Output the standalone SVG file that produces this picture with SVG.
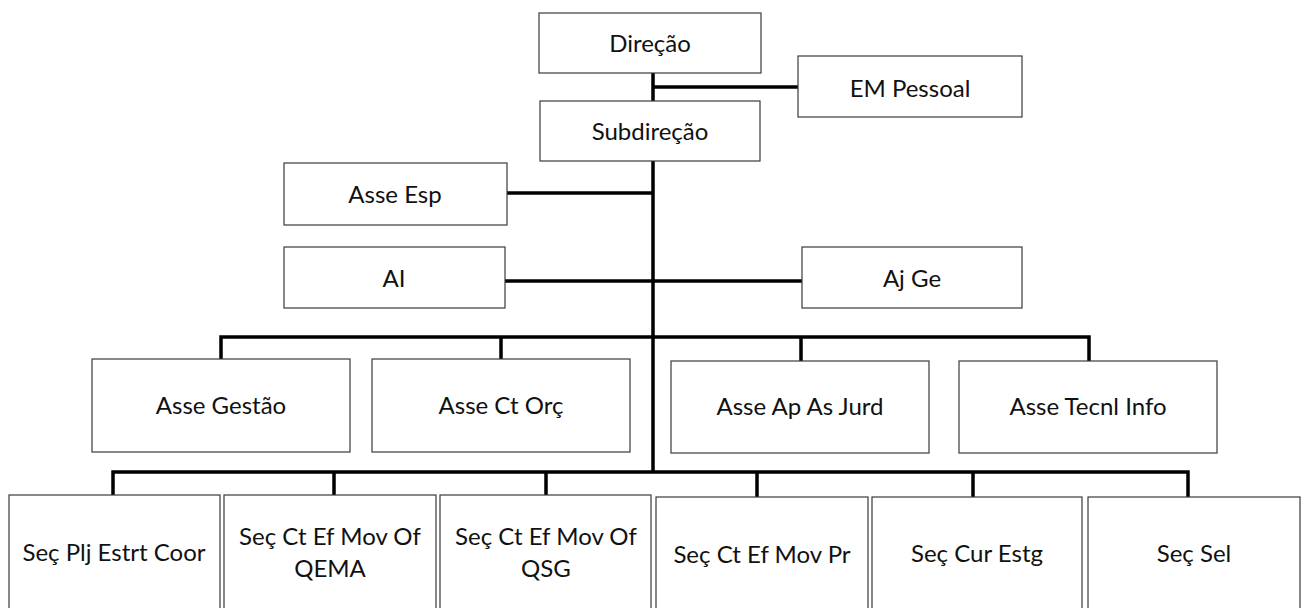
<svg xmlns="http://www.w3.org/2000/svg" width="1301" height="608" viewBox="0 0 1301 608">
<style>
.box{fill:#ffffff;stroke:#3a3a3a;stroke-width:1.2}
.t{font-family:"Lato","Liberation Sans",sans-serif;font-size:24px;fill:#111111;text-anchor:middle}
.c{stroke:#000000;stroke-width:3.5;fill:none;stroke-linecap:butt;stroke-linejoin:miter}
</style>
<rect width="1301" height="608" fill="#ffffff"/>
<g id="connectors">
<path class="c" d="M653 73V101M653 161V473"/>
<path class="c" d="M653 87H798"/>
<path class="c" d="M507 193H653"/>
<path class="c" d="M505 281H802"/>
<path class="c" d="M221 359V337H1089V361M501 337V359M801 337V361"/>
<path class="c" d="M113 495V472H1188V497M334 472V495M546 472V495M757 472V497M973 472V497"/>
</g>
<g id="direcao"><rect class="box" x="539" y="13" width="222" height="60"/><text class="t" x="650" y="52">Direção</text></g>
<g id="em-pessoal"><rect class="box" x="798" y="56" width="224" height="61"/><text class="t" x="910" y="97">EM Pessoal</text></g>
<g id="subdirecao"><rect class="box" x="540" y="101" width="220" height="60"/><text class="t" x="650" y="140">Subdireção</text></g>
<g id="asse-esp"><rect class="box" x="284" y="163" width="223" height="62"/><text class="t" x="395" y="203">Asse Esp</text></g>
<g id="ai"><rect class="box" x="284" y="247" width="221" height="61"/><text class="t" x="394" y="287">AI</text></g>
<g id="aj-ge"><rect class="box" x="802" y="247" width="220" height="61"/><text class="t" x="912" y="287">Aj Ge</text></g>
<g id="asse-gestao"><rect class="box" x="92" y="359" width="258" height="93"/><text class="t" x="221" y="414">Asse Gestão</text></g>
<g id="asse-ct-orc"><rect class="box" x="372" y="359" width="258" height="93"/><text class="t" x="501" y="414">Asse Ct Orç</text></g>
<g id="asse-ap-as-jurd"><rect class="box" x="671" y="361" width="258" height="92"/><text class="t" x="800" y="415">Asse Ap As Jurd</text></g>
<g id="asse-tecnl-info"><rect class="box" x="959" y="361" width="258" height="92"/><text class="t" x="1088" y="415">Asse Tecnl Info</text></g>
<g id="sec-plj"><rect class="box" x="9" y="495" width="211" height="120"/><text class="t" x="114" y="561">Seç Plj Estrt Coor</text></g>
<g id="sec-qema"><rect class="box" x="224" y="495" width="212" height="120"/><text class="t" x="330" y="545">Seç Ct Ef Mov Of</text><text class="t" x="330" y="577">QEMA</text></g>
<g id="sec-qsg"><rect class="box" x="440" y="495" width="211" height="120"/><text class="t" x="546" y="545">Seç Ct Ef Mov Of</text><text class="t" x="546" y="577">QSG</text></g>
<g id="sec-pr"><rect class="box" x="656" y="497" width="212" height="120"/><text class="t" x="762" y="563">Seç Ct Ef Mov Pr</text></g>
<g id="sec-cur-estg"><rect class="box" x="872" y="497" width="210" height="120"/><text class="t" x="977" y="562">Seç Cur Estg</text></g>
<g id="sec-sel"><rect class="box" x="1088" y="497" width="212" height="120"/><text class="t" x="1194" y="562">Seç Sel</text></g>
</svg>
